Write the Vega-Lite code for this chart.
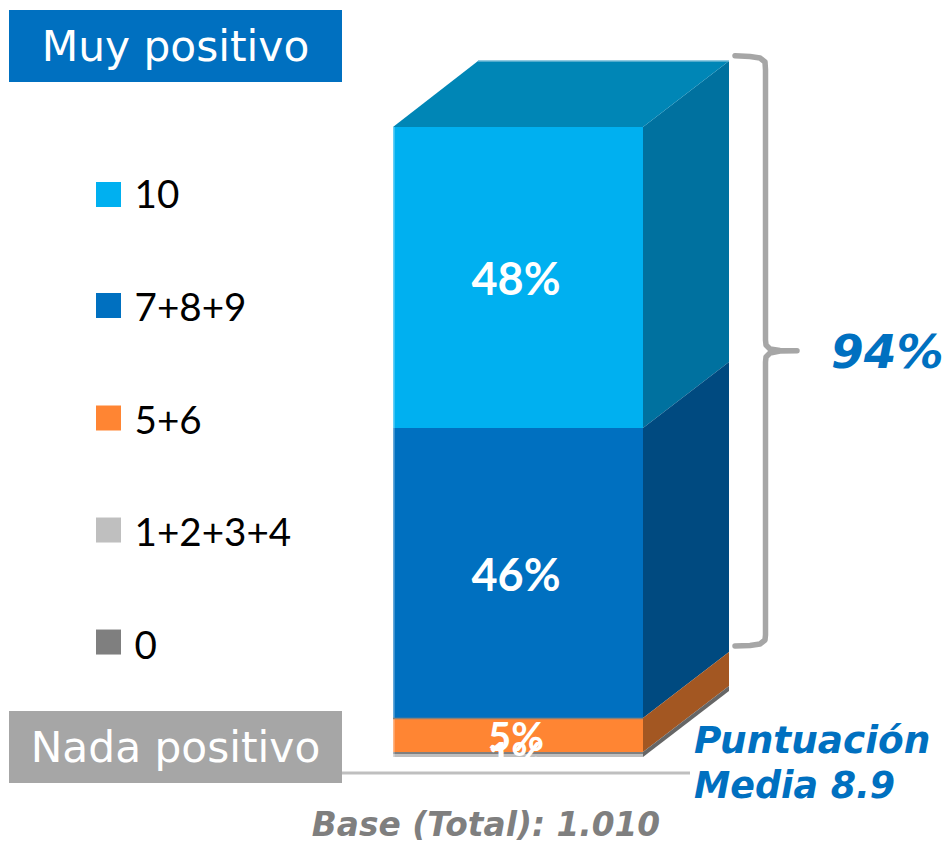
{"$schema":"https://vega.github.io/schema/vega-lite/v6.json","width":947,"height":842,"autosize":{"type":"none"},"padding":0,"background":"white","config":{"view":{"stroke":null}},
"datasets":{
"front":[{"segment":"10","low":52.22,"high":100,"label":"48%","mid":75.55},{"segment":"7+8+9","low":6.19,"high":52.22,"label":"46%","mid":28.5},{"segment":"5+6","low":0.79,"high":6.19,"label":"5%","mid":2.85},{"segment":"0","low":0.4,"high":0.79,"label":"","mid":0},{"segment":"1+2+3+4","low":0,"high":0.4,"label":"1%","mid":-0.3}],
"faces":[{"face":"side 10","x":643,"low":52.22,"high":100},{"face":"side 10","x":729,"low":62.7,"high":110.48},{"face":"side 7+8+9","x":643,"low":6.19,"high":52.22},{"face":"side 7+8+9","x":729,"low":16.67,"high":62.7},{"face":"side 5+6","x":643,"low":0.79,"high":6.19},{"face":"side 5+6","x":729,"low":11.27,"high":16.67},{"face":"side gray","x":643,"low":0,"high":0.79},{"face":"side gray","x":729,"low":10.48,"high":11.27},{"face":"top","x":393,"low":100,"high":100},{"face":"top","x":478,"low":100,"high":110.48},{"face":"top","x":643,"low":100,"high":110.48},{"face":"top","x":729,"low":110.48,"high":110.48}],
"legend":[{"segment":"10","y":89.29,"ty":89.1},{"segment":"7+8+9","y":71.67,"ty":71.1},{"segment":"5+6","y":53.81,"ty":53.2},{"segment":"1+2+3+4","y":36.03,"ty":35.4},{"segment":"0","y":18.25,"ty":17.5}],
"bracket":[{"i":1,"x":735,"y":111.32},{"i":2,"x":750,"y":111.19},{"i":3,"x":760,"y":110.95},{"i":4,"x":765,"y":110.32},{"i":5,"x":765.5,"y":109.05},{"i":6,"x":765.5,"y":66.19},{"i":7,"x":766,"y":65.4},{"i":8,"x":770,"y":64.76},{"i":9,"x":780,"y":64.52},{"i":10,"x":797,"y":64.49},{"i":11,"x":780,"y":64.44},{"i":12,"x":770,"y":64.13},{"i":13,"x":766,"y":63.49},{"i":14,"x":765.5,"y":62.7},{"i":15,"x":765.5,"y":19.37},{"i":16,"x":765,"y":18.57},{"i":17,"x":760,"y":17.94},{"i":18,"x":750,"y":17.7},{"i":19,"x":735,"y":17.62}],
"banners":[{"text":"Muy positivo","low":107.14,"high":118.57,"mid":112.54,"fill":"Muy"},{"text":"Nada positivo","low":-4.13,"high":7.3,"mid":1.27,"fill":"Nada"}]
},
"layer":[
{"data":{"name":"faces"},"mark":{"type":"area","interpolate":"linear"},"encoding":{"x":{"field":"x","type":"quantitative","scale":{"domain":[0,947],"nice":false,"zero":false},"axis":null},"y":{"field":"low","type":"quantitative","scale":{"domain":[-13.492,120.159],"nice":false,"zero":false},"axis":null},"y2":{"field":"high"},"color":{"field":"face","type":"nominal","legend":null,"scale":{"domain":["side 10","side 7+8+9","side 5+6","side gray","top","10","7+8+9","5+6","1+2+3+4","0","Muy","Nada"],"range":["#00719F","#004A80","#A35722","#666666","#0086B6","#00B0F0","#0070C0","#FF8533","#BFBFBF","#7F7F7F","#0070C0","#A6A6A6"]}}}},
{"data":{"name":"front"},"mark":{"type":"rect"},"encoding":{"x":{"datum":393},"x2":{"datum":643},"y":{"field":"low","type":"quantitative"},"y2":{"field":"high"},"color":{"field":"segment","type":"nominal"}}},
{"data":{"values":[{"a":393.7,"lo":0,"hi":100}]},"mark":{"type":"rule","color":"#FFFFFF","opacity":0.4,"strokeWidth":1.8},"encoding":{"x":{"field":"a","type":"quantitative"},"y":{"field":"lo","type":"quantitative"},"y2":{"field":"hi"}}},
{"data":{"values":[{"from":478,"to":729,"v":110.48}]},"mark":{"type":"rule","color":"#6CB8D6","strokeWidth":1.5},"encoding":{"x":{"field":"from","type":"quantitative"},"x2":{"field":"to"},"y":{"field":"v","type":"quantitative"}}},
{"data":{"values":[{"from":393,"to":643,"v":6.12}]},"mark":{"type":"rule","color":"#8A8078","strokeWidth":1.5},"encoding":{"x":{"field":"from","type":"quantitative"},"x2":{"field":"to"},"y":{"field":"v","type":"quantitative"}}},
{"data":{"values":[{"from":342,"to":690,"v":-2.54}]},"mark":{"type":"rule","color":"#BFBFBF","strokeWidth":3},"encoding":{"x":{"field":"from","type":"quantitative"},"x2":{"field":"to"},"y":{"field":"v","type":"quantitative"}}},
{"data":{"name":"banners"},"mark":{"type":"rect"},"encoding":{"x":{"datum":9},"x2":{"datum":342},"y":{"field":"low","type":"quantitative"},"y2":{"field":"high"},"color":{"field":"fill","type":"nominal"}}},
{"data":{"name":"banners"},"mark":{"type":"text","font":"DejaVu Sans","fontSize":42.3,"color":"#FFFFFF","align":"center","baseline":"middle"},"encoding":{"x":{"datum":175.5},"y":{"field":"mid","type":"quantitative"},"text":{"field":"text"}}},
{"data":{"name":"legend"},"mark":{"type":"square","size":625,"opacity":1,"filled":true},"encoding":{"x":{"datum":108.5},"y":{"field":"y","type":"quantitative"},"color":{"field":"segment","type":"nominal"}}},
{"data":{"name":"legend"},"mark":{"type":"text","font":"Lato","fontSize":38.6,"color":"#000000","align":"left","baseline":"middle"},"encoding":{"x":{"datum":134.5},"y":{"field":"ty","type":"quantitative"},"text":{"field":"segment"}}},
{"data":{"name":"front"},"transform":[{"filter":"datum.label==='48%'||datum.label==='46%'"}],"mark":{"type":"text","font":"Lato","fontWeight":"bold","fontSize":45,"color":"#FFFFFF","align":"center","baseline":"middle"},"encoding":{"x":{"datum":516},"y":{"field":"mid","type":"quantitative"},"text":{"field":"label"}}},
{"data":{"name":"front"},"transform":[{"filter":"datum.label==='5%'||datum.label==='1%'"}],"mark":{"type":"text","font":"Lato","fontWeight":"bold","fontSize":40,"color":"#FFFFFF","align":"center","baseline":"middle"},"encoding":{"x":{"datum":516},"y":{"field":"mid","type":"quantitative"},"text":{"field":"label"}}},
{"data":{"name":"bracket"},"mark":{"type":"line","color":"#A6A6A6","strokeWidth":5.5,"strokeCap":"round","strokeJoin":"round"},"encoding":{"x":{"field":"x","type":"quantitative"},"y":{"field":"y","type":"quantitative"},"order":{"field":"i"}}},
{"data":{"values":[{"text":"94%","x":831,"y":64.0}]},"mark":{"type":"text","font":"DejaVu Sans","fontWeight":"bold","fontStyle":"italic","fontSize":47,"color":"#0070C0","align":"left","baseline":"middle"},"encoding":{"x":{"field":"x","type":"quantitative"},"y":{"field":"y","type":"quantitative"},"text":{"field":"text"}}},
{"data":{"values":[{"text":"Puntuación","x":694,"y":2.38}]},"mark":{"type":"text","font":"DejaVu Sans","fontWeight":"bold","fontStyle":"italic","fontSize":37.4,"color":"#0070C0","align":"left","baseline":"middle"},"encoding":{"x":{"field":"x","type":"quantitative"},"y":{"field":"y","type":"quantitative"},"text":{"field":"text"}}},
{"data":{"values":[{"text":"Media 8.9","x":694,"y":-4.76}]},"mark":{"type":"text","font":"DejaVu Sans","fontWeight":"bold","fontStyle":"italic","fontSize":36.4,"color":"#0070C0","align":"left","baseline":"middle"},"encoding":{"x":{"field":"x","type":"quantitative"},"y":{"field":"y","type":"quantitative"},"text":{"field":"text"}}},
{"data":{"values":[{"text":"Base (Total): 1.010","x":486,"y":-10.95}]},"mark":{"type":"text","font":"DejaVu Sans","fontWeight":"bold","fontStyle":"italic","fontSize":32.8,"color":"#7F7F7F","align":"center","baseline":"middle"},"encoding":{"x":{"field":"x","type":"quantitative"},"y":{"field":"y","type":"quantitative"},"text":{"field":"text"}}}
]}
